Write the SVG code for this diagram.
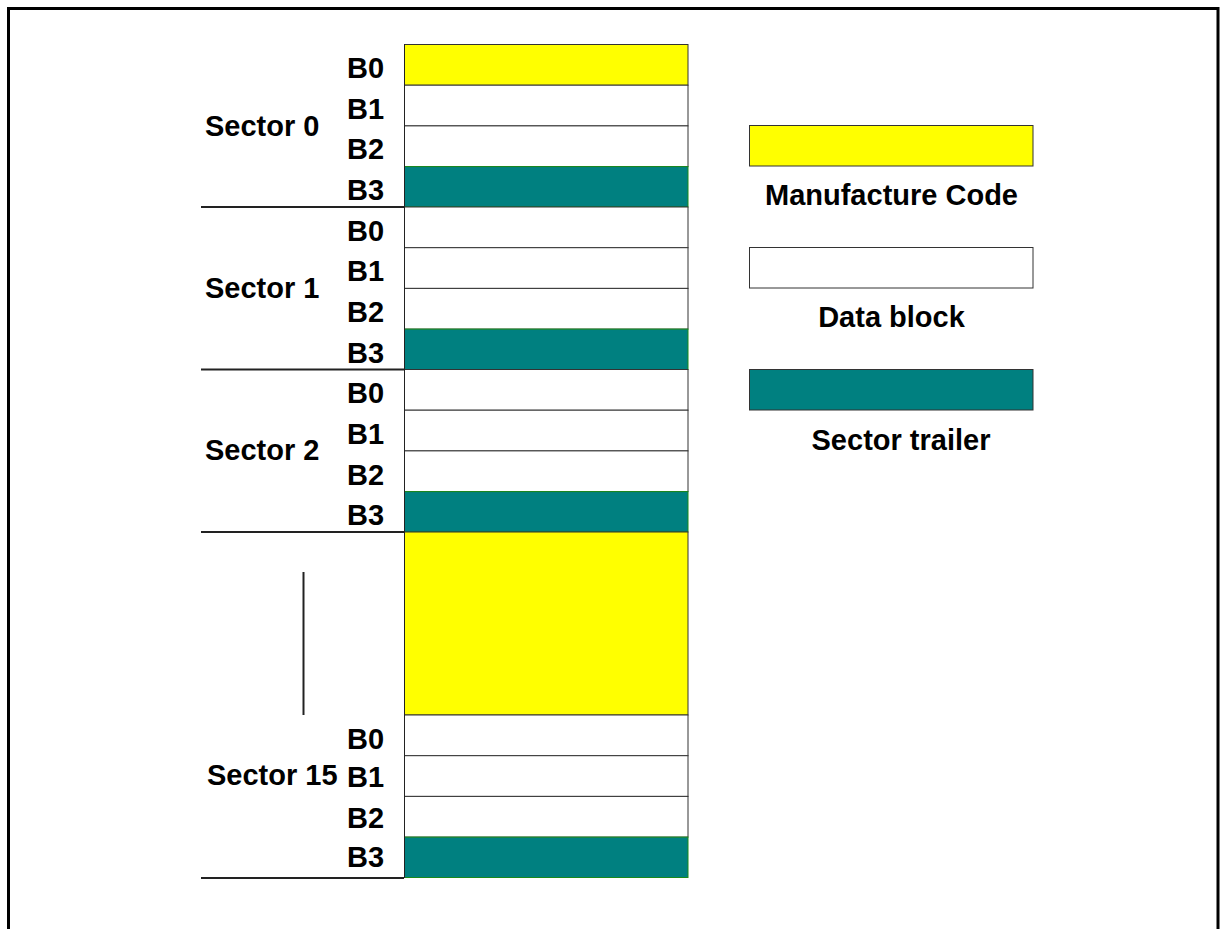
<svg xmlns="http://www.w3.org/2000/svg" width="1222" height="929" viewBox="0 0 1222 929">
<style>
text{font-family:"Liberation Sans",Arial,sans-serif;font-weight:bold;font-size:29px;fill:#000}
.lg{text-anchor:middle}
.y{fill:#ffff00;stroke:#333;stroke-width:1}
.w{fill:#fff;stroke:#333;stroke-width:1}
.t{fill:#008080;stroke:#1a8a1a;stroke-width:1}
.sep{stroke:#222;stroke-width:2;fill:none}
</style>
<rect width="1222" height="929" fill="#fff"/>
<path d="M8.5,929 V8.5 H1218 V929" fill="none" stroke="#000" stroke-width="3"/>

<g id="sector0">
<rect class="y" x="404.5" y="44.5" width="283.5" height="40.7"/>
<rect class="w" x="404.5" y="85.2" width="283.5" height="40.7"/>
<rect class="w" x="404.5" y="125.9" width="283.5" height="40.7"/>
<rect class="t" x="404.5" y="166.6" width="283.5" height="40.4"/>
<text x="347" y="78">B0</text><text x="347" y="119">B1</text><text x="347" y="159">B2</text><text x="347" y="200">B3</text>
<text x="205" y="136">Sector 0</text>
</g>
<g id="sector1">
<rect class="w" x="404.5" y="207" width="283.5" height="40.7"/>
<rect class="w" x="404.5" y="247.7" width="283.5" height="40.7"/>
<rect class="w" x="404.5" y="288.4" width="283.5" height="40.7"/>
<rect class="t" x="404.5" y="329.1" width="283.5" height="40.4"/>
<text x="347" y="241">B0</text><text x="347" y="281">B1</text><text x="347" y="322">B2</text><text x="347" y="363">B3</text>
<text x="205" y="298">Sector 1</text>
</g>
<g id="sector2">
<rect class="w" x="404.5" y="369.5" width="283.5" height="40.7"/>
<rect class="w" x="404.5" y="410.2" width="283.5" height="40.7"/>
<rect class="w" x="404.5" y="450.9" width="283.5" height="40.7"/>
<rect class="t" x="404.5" y="491.6" width="283.5" height="40.4"/>
<text x="347" y="403">B0</text><text x="347" y="444">B1</text><text x="347" y="485">B2</text><text x="347" y="525">B3</text>
<text x="205" y="460">Sector 2</text>
</g>
<g id="gap">
<rect class="y" x="404.5" y="532" width="283.5" height="183"/>
</g>
<g id="sector15">
<rect class="w" x="404.5" y="715" width="283.5" height="40.7"/>
<rect class="w" x="404.5" y="755.7" width="283.5" height="40.7"/>
<rect class="w" x="404.5" y="796.4" width="283.5" height="40.7"/>
<rect class="t" x="404.5" y="837.1" width="283.5" height="40.4"/>
<text x="347" y="749">B0</text><text x="347" y="787">B1</text><text x="347" y="828">B2</text><text x="347" y="867">B3</text>
<text x="207" y="785">Sector 15</text>
</g>

<g id="connectors">
<path class="sep" d="M201,207 H404 M201,369.5 H404 M201,532 H404 M201,878 H404"/>
<path d="M404.5,44 V878" stroke="#222" stroke-width="1" fill="none"/>
<path d="M303.5,572 V715" stroke="#222" stroke-width="2" fill="none"/>
</g>

<g id="legend-manufacture">
<rect class="y" x="749.5" y="125.5" width="283.5" height="40.5"/>
<text class="lg" x="891.5" y="205">Manufacture Code</text>
</g>
<g id="legend-data">
<rect class="w" x="749.5" y="247.5" width="283.5" height="40.5"/>
<text class="lg" x="891.5" y="327">Data block</text>
</g>
<g id="legend-trailer">
<rect x="749.5" y="369.5" width="283.5" height="40.5" fill="#008080" stroke="#333" stroke-width="1"/>
<text class="lg" x="901" y="450">Sector trailer</text>
</g>
</svg>
